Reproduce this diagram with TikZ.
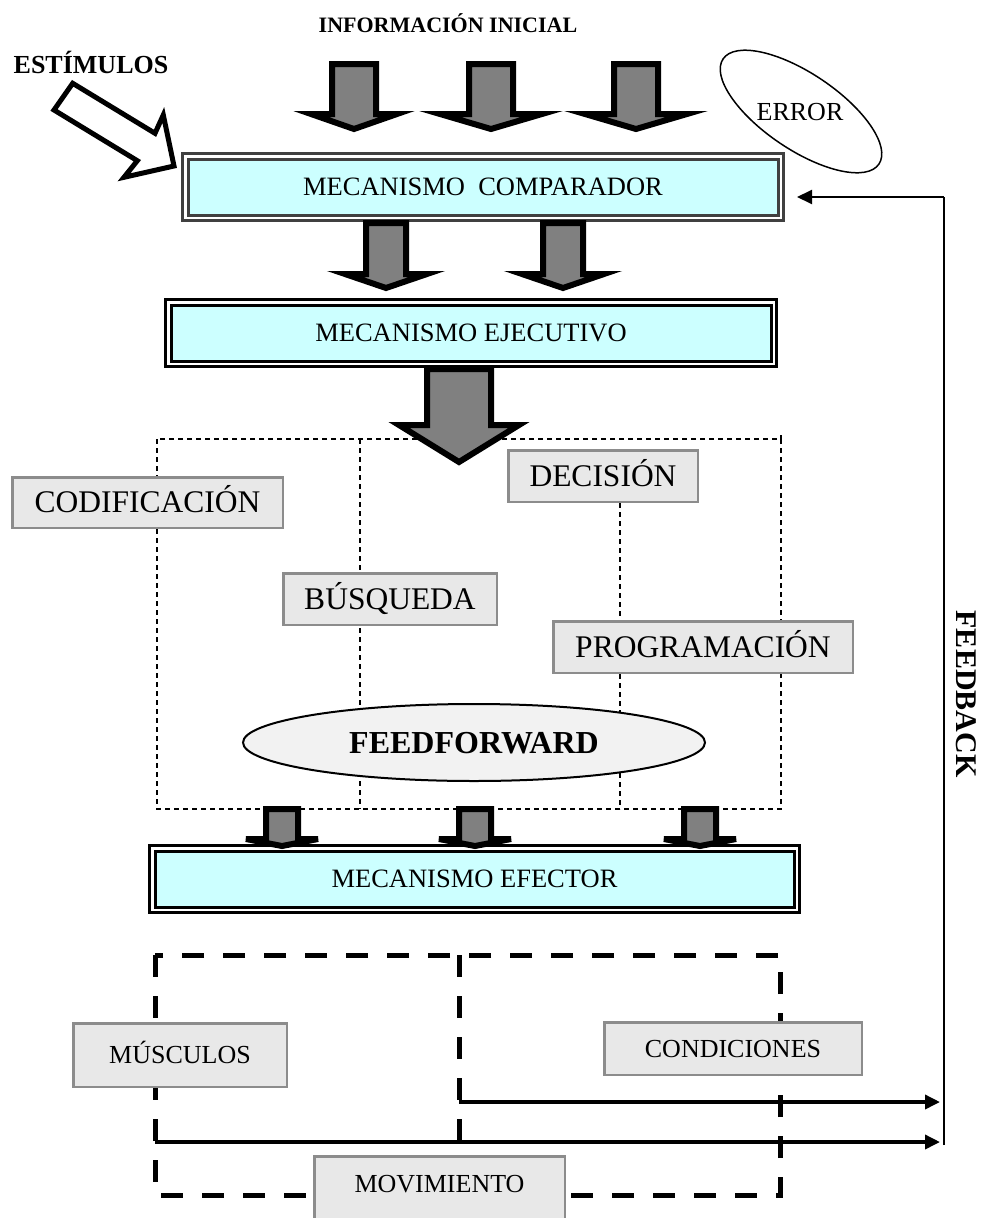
\documentclass[tikz,border=0pt]{standalone}
\usepackage{fontspec}
\setmainfont{Liberation Serif}
\usetikzlibrary{shapes.geometric,arrows.meta}

\definecolor{boxcyan}{HTML}{CCFFFF}
\definecolor{framegray}{HTML}{404040}
\definecolor{arrowgray}{HTML}{808080}
\definecolor{stagefill}{HTML}{E8E8E8}
\definecolor{stageline}{HTML}{8C8C8C}
\definecolor{ovalfill}{HTML}{F2F2F2}

\tikzset{
  % caps-only labels: fixed height so the capitals sit centred
  mechfont/.style={font=\fontsize{26.5}{30}\selectfont, text height=17.5pt, text depth=0pt},
  stagefont/.style={font=\fontsize{31.5}{36}\selectfont, text height=20.8pt, text depth=0pt},
  smallfont/.style={font=\fontsize{26}{30}\selectfont, text height=17.2pt, text depth=0pt},
  mechbox/.style={draw=black, fill=boxcyan, line width=3pt, double=white,
    double distance=2.5pt, inner sep=0pt, mechfont},
  stagebox/.style={draw=stageline, fill=stagefill, line width=2.5pt,
    inner sep=0pt, stagefont},
  smallstage/.style={draw=stageline, fill=stagefill, line width=2.5pt,
    inner sep=0pt, smallfont},
  blockarrowstyle/.style={draw=black, fill=arrowgray, line width=6pt,
    line join=miter},
  hollowarrow/.style={draw=black, fill=white, line width=5pt, line join=miter},
  groupdots/.style={line width=1.2pt, dash pattern=on 5pt off 4pt},
  groupdash/.style={line width=5pt, dash pattern=on 22pt off 19pt},
  outarrow/.style={line width=3.5pt, -{Triangle[length=15pt,width=14pt]}},
  returnarrow/.style={line width=2pt, -{Triangle[length=15pt,width=14pt]}},
}

% thick grey block arrow pointing down:
% #1 centre x, #2 top y, #3 shoulder y, #4 tip y, #5 half shaft, #6 half head
\newcommand{\blockarrow}[6]{%
  \draw[blockarrowstyle]
    ({#1-#5+3},{#2+3}) -- ({#1+#5-3},{#2+3}) -- ({#1+#5-3},{#3+3})
    -- ({#1+#6-14},{#3+3}) -- (#1,{#4-4}) -- ({#1-#6+14},{#3+3})
    -- ({#1-#5+3},{#3+3}) -- cycle;}

\begin{document}
\begin{tikzpicture}[x=1pt,y=-1pt]
\useasboundingbox (0,0) rectangle (996,1218);

% output stage (heavy dashed frame)
\draw[groupdash] (155,955) rectangle (780,1195);
\draw[groupdash] (459,955) -- (459,1147);

% feedback loop
\coordinate (condstart) at (459,1102);
\coordinate (condend) at (940,1102);
\coordinate (muscstart) at (155,1142);
\coordinate (muscend) at (940,1142);
\coordinate (fbbottom) at (944,1145);
\coordinate (fbtop) at (944,197);
\coordinate (fbin) at (797,197);
\draw[outarrow] (condstart) -- (condend);
\draw[outarrow] (muscstart) -- (muscend);
\draw[line width=1.5pt] (fbbottom) -- (fbtop);
\draw[returnarrow] (fbtop) -- (fbin);

% mechanisms
\node[mechbox, draw=framegray, minimum width=595.5, minimum height=61.5]
  (comparador) at (483,187) {MECANISMO~~COMPARADOR};
\node[mechbox, minimum width=605.5, minimum height=61.5]
  (ejecutivo) at (471,333) {MECANISMO EJECUTIVO};
\node[mechbox, minimum width=644.5, minimum height=61.5]
  (efector) at (474.5,879) {MECANISMO EFECTOR};

% processing stages (thin dashed frame)
\coordinate (decisionfoot) at (620,503);
\draw[groupdots] (157,439) rectangle (781,809);
\draw[groupdots] (781,435) -- (781,439);
\draw[groupdots] (360,439) -- (360,809);
\draw[groupdots] (decisionfoot) -- (620,809);

\node[stagebox, minimum width=270.5, minimum height=50.5]
  (codificacion) at (147.5,502.5) {CODIFICACIÓN};
\node[stagebox, minimum width=189.5, minimum height=51.5]
  (decision) at (603,476) {DECISIÓN};
\node[stagebox, minimum width=213.5, minimum height=51.5]
  (busqueda) at (390,599) {BÚSQUEDA};
\node[stagebox, minimum width=299.5, minimum height=51.5]
  (programacion) at (703,647) {PROGRAMACIÓN};
\node[ellipse, draw, line width=2pt, fill=ovalfill, minimum width=462,
  minimum height=77, inner sep=0pt,
  font=\bfseries\fontsize{32}{36}\selectfont, text height=21.2pt, text depth=0pt]
  (feedforward) at (474,742.5) {FEEDFORWARD};

\node[smallstage, minimum width=213.5, minimum height=63.5]
  (musculos) at (180,1055) {MÚSCULOS};
\node[smallstage, minimum width=257.5, minimum height=52.5]
  (condiciones) at (733,1048.5) {CONDICIONES};
\node[smallstage, anchor=north, minimum width=250.5, text height=36pt,
  text depth=40pt] (movimiento) at (439.5,1155) {MOVIMIENTO};

% error oval
\node[ellipse, draw, line width=1.5pt, minimum width=188, minimum height=76,
  rotate=-34, inner sep=0pt] (errorring) at (801,111.5) {};
\node[inner sep=0pt, smallfont] (errorlabel) at (800,112) {ERROR};

% headings
\node[inner sep=0pt, font=\bfseries\fontsize{22}{26}\selectfont,
  text height=14.6pt, text depth=0pt]
  (info) at (448,25) {INFORMACIÓN INICIAL};
\node[inner sep=0pt, font=\bfseries\fontsize{26}{30}\selectfont,
  text height=17.2pt, text depth=0pt]
  (estimulos) at (91,65) {ESTÍMULOS};
\node[inner sep=0pt, rotate=-90, font=\bfseries\fontsize{30}{34}\selectfont,
  text height=19.9pt, text depth=0pt]
  (feedback) at (966,694) {FEEDBACK};

% incoming information
\blockarrow{354}{61}{111}{133}{25}{57}
\blockarrow{491}{61}{111}{133}{25}{65}
\blockarrow{636}{61}{111}{133}{25}{65}

% comparador to ejecutivo
\blockarrow{386}{220}{271}{292}{23}{55}
\blockarrow{563}{220}{271}{292}{23}{55}

% ejecutivo to the stages
\blockarrow{459}{366}{422}{466}{35}{74}

% stages to efector
\blockarrow{282}{806}{836}{850}{19}{50}
\blockarrow{475}{806}{836}{850}{19}{50}
\blockarrow{700}{806}{836}{850}{19}{50}

% stimulus arrow
\draw[hollowarrow] (72.7,83.3) -- (155,133.3) -- (163.3,115) -- (174,166)
  -- (124,177.3) -- (137.3,160.7) -- (54,110) -- cycle;
\end{tikzpicture}
\end{document}
